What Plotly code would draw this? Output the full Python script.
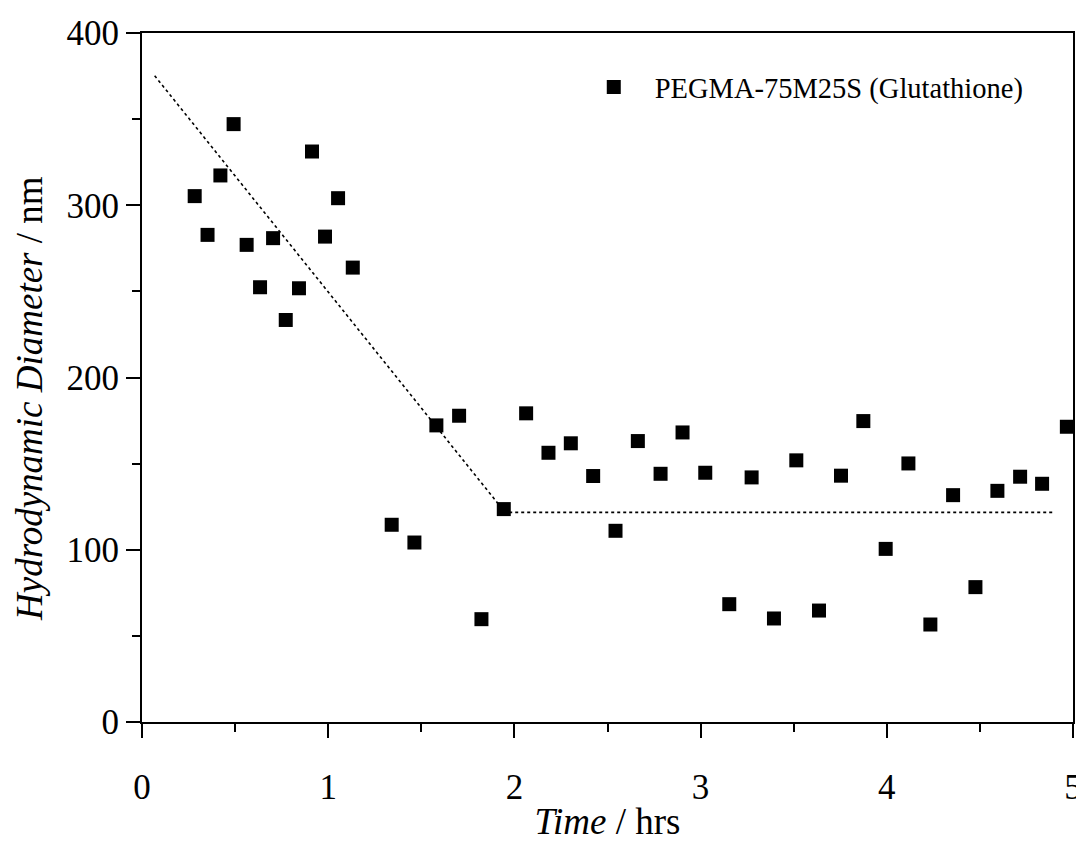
import plotly.graph_objects as go

time_hrs = [0.283, 0.352, 0.421, 0.492, 0.562, 0.634, 0.704, 0.772, 0.843, 0.913,
            0.983, 1.053, 1.132, 1.341, 1.463, 1.581, 1.703, 1.823, 1.943, 2.063,
            2.183, 2.303, 2.423, 2.543, 2.663, 2.785, 2.903, 3.025, 3.154, 3.274,
            3.394, 3.514, 3.636, 3.754, 3.874, 3.994, 4.116, 4.234, 4.356, 4.476,
            4.594, 4.716, 4.834, 4.967]
diameter_nm = [305.3, 282.8, 317.3, 347.1, 277.0, 252.4, 280.9, 233.4, 251.8, 331.2,
               281.8, 304.1, 263.8, 114.5, 104.2, 172.2, 177.8, 59.7, 123.6, 179.2,
               156.3, 161.8, 142.8, 111.0, 163.1, 144.1, 168.1, 144.7, 68.4, 142.0,
               60.1, 151.9, 64.7, 143.0, 174.7, 100.5, 150.1, 56.6, 131.7, 78.3,
               134.2, 142.4, 138.3, 171.4]

guide_x = [0.068, 1.95, 4.904]
guide_y = [375.2, 121.7, 121.7]

series_name = "PEGMA-75M25S (Glutathione)"
x_title = "<i>Time</i> / hrs"
y_title = "<i>Hydrodynamic Diameter</i> / nm"

FONT = "Liberation Serif, Times New Roman, serif"

fig = go.Figure()
fig.add_trace(go.Scatter(
    x=guide_x, y=guide_y, mode="lines",
    line=dict(color="black", width=1.6, dash="dot"),
    showlegend=False, hoverinfo="skip"))
fig.add_trace(go.Scatter(
    x=time_hrs, y=diameter_nm, mode="markers", name=series_name,
    marker=dict(symbol="square", size=14, color="black",
                line=dict(width=0))))

axis_common = dict(
    showgrid=False, zeroline=False, showline=True, linecolor="black",
    linewidth=2, mirror=True, ticks="outside", ticklen=14, tickwidth=2,
    tickcolor="black", tickfont=dict(family=FONT, size=35, color="black"),
)

fig.update_xaxes(
    range=[0, 5], tickvals=[0, 1, 2, 3, 4, 5], **axis_common,
    ticklabelstandoff=19,
    minor=dict(dtick=0.5, tick0=0, ticklen=8, tickwidth=2, tickcolor="black",
               ticks="outside", showgrid=False),
    title=dict(text=x_title, font=dict(family=FONT, size=37, color="black"),
               standoff=17))
fig.update_yaxes(
    range=[0, 400], tickvals=[0, 100, 200, 300, 400], **axis_common,
    minor=dict(dtick=50, tick0=0, ticklen=8, tickwidth=2, tickcolor="black",
               ticks="outside", showgrid=False))

fig.add_annotation(
    text=y_title, textangle=-90, showarrow=False,
    xref="paper", yref="paper", x=0, y=0.4688, xshift=-112,
    xanchor="center", yanchor="middle",
    font=dict(family=FONT, size=37, color="black"))

fig.update_layout(
    width=1076, height=834,
    margin=dict(l=134, r=11, t=25, b=120, autoexpand=False),
    plot_bgcolor="white", paper_bgcolor="white",
    font=dict(family=FONT, color="black"),
    legend=dict(x=0.4627, y=0.958, xanchor="left", yanchor="top",
                itemwidth=72,
                font=dict(family=FONT, size=28.5, color="black"),
                bgcolor="rgba(0,0,0,0)"),
)

fig.write_html("out.html")
